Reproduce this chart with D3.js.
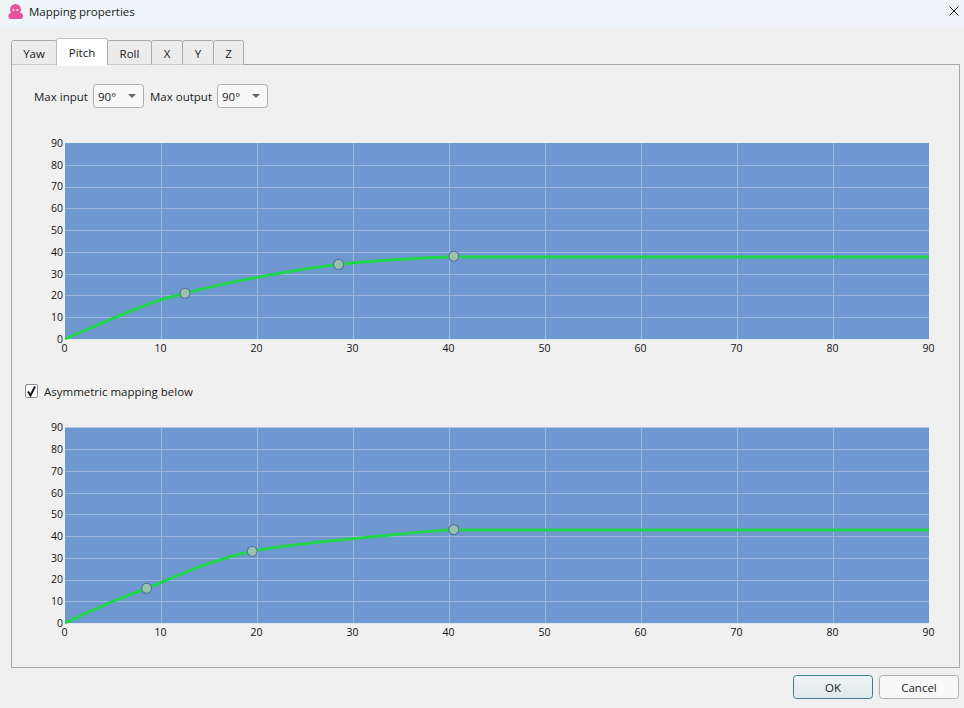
<!DOCTYPE html>
<html><head><meta charset="utf-8">
<script src="https://cdn.jsdelivr.net/npm/d3@7/dist/d3.min.js"></script>
<style>html,body{margin:0;padding:0;background:#f0f0f0;overflow:hidden}svg{display:block}</style>
</head><body><svg id="c" width="964" height="708"></svg>
<script>
const xTicks=[0,10,20,30,40,50,60,70,80,90];
const yTicks=[0,10,20,30,40,50,60,70,80,90];
const upperX=[0,5,10,12.5,20,28.5,35,40.5,46,90];
const upperY=[0,9.5,18,21,28.3,34.2,36.6,37.7,37.7,37.7];
const lowerX=[0,5,8.5,10,15,19.5,25,30,35,40.5,46,90];
const lowerY=[0,10,16,18.7,27.5,33,36.5,38.8,41,42.8,42.8,42.8];
const upperHandleX=[12.5,28.5,40.5];
const upperHandleY=[21,34.2,38];
const lowerHandleX=[8.5,19.5,40.5];
const lowerHandleY=[16,33,43];
const tabNames=["Yaw","Pitch","Roll","X","Y","Z"];

const svg=d3.select("#c");
const F='"Open Sans","Noto Sans",sans-serif';
const defs=svg.append("defs");
const tb=defs.append("linearGradient").attr("id","tb").attr("x1",0).attr("x2",1).attr("y1",0).attr("y2",0);
tb.append("stop").attr("offset",0).attr("stop-color","#edf5f8");
tb.append("stop").attr("offset",1).attr("stop-color","#f0f3f8");
const ok=defs.append("linearGradient").attr("id","ok").attr("x1",0).attr("x2",0).attr("y1",0).attr("y2",1);
ok.append("stop").attr("offset",0).attr("stop-color","#eef5f6");
ok.append("stop").attr("offset",1).attr("stop-color","#dfe9ea");

svg.append("rect").attr("width",964).attr("height",708).attr("fill","#f0f0f0");
svg.append("rect").attr("width",964).attr("height",27).attr("fill","url(#tb)");

// app icon
const ic=svg.append("g").attr("fill","#e8529a");
ic.append("ellipse").attr("cx",15.5).attr("cy",9.5).attr("rx",5.5).attr("ry",5.5);
ic.append("rect").attr("x",8.5).attr("y",13).attr("width",14.5).attr("height",6).attr("rx",2.5);
ic.append("circle").attr("cx",13.5).attr("cy",10).attr("r",1.1).attr("fill","#fff");
ic.append("circle").attr("cx",17.5).attr("cy",10).attr("r",1.1).attr("fill","#fff");

function text(x,y,s,o={}){
  return svg.append("text").attr("x",x).attr("y",y).text(s)
    .attr("font-family",F).attr("font-size",o.size||11.5).attr("fill",o.fill||"#1a1a1a")
    .attr("text-anchor",o.anchor||"start");
}
text(29,16,"Mapping properties");
svg.append("path").attr("d","M949.5 6.5L958.5 15.5M958.5 6.5L949.5 15.5").attr("stroke","#222").attr("stroke-width",1).attr("fill","none");

// tab pane
svg.append("rect").attr("x",11.5).attr("y",64.5).attr("width",948).attr("height",603).attr("fill","#f0f0f0").attr("stroke","#a9a9a9");

// tabs
const tabEdges=[11.5,56.5,107.5,151.5,182.5,213.5,243.5];
tabNames.forEach((n,i)=>{
  const sel=i===1;
  const x0=tabEdges[i],x1=tabEdges[i+1],top=sel?38.5:40.5,bot=sel?65:64.5;
  svg.append("path").attr("d",`M${x0} ${bot}V${top+2}Q${x0} ${top} ${x0+2} ${top}H${x1-2}Q${x1} ${top} ${x1} ${top+2}V${bot}`)
    .attr("fill",sel?"#fff":"#ececec").attr("stroke",sel?"#bdbdbd":"#a9a9a9");
  text((x0+x1)/2,sel?57:58,n,{anchor:"middle"});
});
svg.append("rect").attr("x",57).attr("y",63).attr("width",50).attr("height",3).attr("fill","#fff");

// combos
function combo(x,w){
  svg.append("rect").attr("x",x+.5).attr("y",84.5).attr("width",w).attr("height",23).attr("rx",3).attr("fill","#f8f8f8").attr("stroke","#adadad");
  text(x+5,101,"90°");
  svg.append("path").attr("d",`M${x+35} 94H${x+43}L${x+39} 98Z`).attr("fill","#666");
}
text(34,101,"Max input");
combo(93,50);
text(150,101,"Max output");
combo(217,50);

// charts
const x=d3.scaleLinear().domain([0,90]).range([65,929]);
function chart(top,bottom,xs,ys,hx,hy){
  const y=d3.scaleLinear().domain([0,90]).range([bottom,top]);
  const g=svg.append("g");
  g.append("rect").attr("x",x(0)).attr("y",top).attr("width",x(90)-x(0)).attr("height",bottom-top).attr("fill","#6e98cf");
  g.append("g").selectAll("line").data(xTicks.slice(1,-1)).join("line")
    .attr("x1",d=>Math.round(x(d))+.5).attr("x2",d=>Math.round(x(d))+.5).attr("y1",top).attr("y2",bottom)
    .attr("stroke","#9db8da").attr("stroke-width",1);
  g.append("g").selectAll("line").data(yTicks.slice(1,-1)).join("line")
    .attr("x1",x(0)).attr("x2",x(90)).attr("y1",d=>Math.round(y(d))+.5).attr("y2",d=>Math.round(y(d))+.5)
    .attr("stroke","#9db8da").attr("stroke-width",1);
  g.append("line").attr("x1",x(0)).attr("x2",x(90)).attr("y1",bottom+.5).attr("y2",bottom+.5).attr("stroke","#dfe8f3");

  const xa=g.append("g").attr("transform",`translate(0,${bottom})`).call(d3.axisBottom(x).tickValues(xTicks).tickSize(0).tickPadding(6));
  const ya=g.append("g").attr("transform",`translate(${x(0)},0)`).call(d3.axisLeft(y).tickValues(yTicks).tickSize(0).tickPadding(2));
  [xa,ya].forEach(a=>{a.select(".domain").remove();a.selectAll("text").attr("font-family",F).attr("font-size",10.5).attr("fill","#111");});
  xa.selectAll("text").attr("dx","-1");

  const pts=xs.map((v,i)=>[v,ys[i]]);
  g.append("path").datum(pts).attr("fill","none").attr("stroke","#21d64d").attr("stroke-width",3).attr("stroke-linecap","butt")
    .attr("d",d3.line().x(d=>x(d[0])).y(d=>y(d[1])).curve(d3.curveMonotoneX));
  g.append("g").selectAll("circle").data(hx.map((v,i)=>[v,hy[i]])).join("circle")
    .attr("cx",d=>x(d[0])).attr("cy",d=>y(d[1])).attr("r",5)
    .attr("fill","#a2c2ae").attr("fill-opacity",.9).attr("stroke","#50749a").attr("stroke-width",1.1);
}
chart(143,339,upperX,upperY,upperHandleX,upperHandleY);
chart(427.5,623,lowerX,lowerY,lowerHandleX,lowerHandleY);

// checkbox
svg.append("rect").attr("x",25.5).attr("y",384.5).attr("width",12).attr("height",13).attr("rx",1.5).attr("fill","#fff").attr("stroke","#8d8d8d");
svg.append("path").attr("d","M28 391.5L30.5 395.5L35 386.5").attr("fill","none").attr("stroke","#111").attr("stroke-width",2);
text(44,396,"Asymmetric mapping below");

// buttons
svg.append("rect").attr("x",793.5).attr("y",675.5).attr("width",79).attr("height",23).attr("rx",3).attr("fill","url(#ok)").attr("stroke","#3f7f8c");
text(833,692,"OK",{anchor:"middle"});
svg.append("rect").attr("x",879.5).attr("y",675.5).attr("width",79).attr("height",23).attr("rx",3).attr("fill","#f8f8f8").attr("stroke","#b0b0b0");
text(919,692,"Cancel",{anchor:"middle"});
</script></body></html>
